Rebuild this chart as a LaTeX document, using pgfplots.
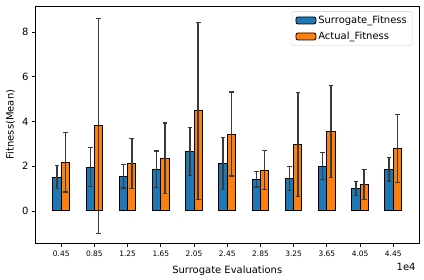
\documentclass[border=0pt]{standalone}
\usepackage{pgfplots}
\pgfplotsset{compat=1.18}
\usepackage{fontspec}
\setmainfont{DejaVu Sans}
\definecolor{mblue}{HTML}{1F77B4}
\definecolor{morange}{HTML}{FF7F0E}
\definecolor{ecol}{HTML}{3A3A3A}
\begin{document}
\begin{tikzpicture}
\useasboundingbox (0,0) rectangle (424bp,280bp);
\begin{axis}[
  at={(35.5bp,37bp)}, anchor=south west,
  scale only axis, width=383.5bp, height=237bp,
  xmin=0.14, xmax=4.76, ymin=-1.43, ymax=9.16,
  xtick={0.45,0.85,1.25,1.65,2.05,2.45,2.85,3.25,3.65,4.05,4.45},
  xticklabels={0.45,0.85,1.25,1.65,2.05,2.45,2.85,3.25,3.65,4.05,4.45},
  ytick={0,2,4,6,8},
  yticklabels={0,2,4,6,8},
  xtick pos=bottom, ytick pos=left,
  tick align=outside, major tick length=3.5bp,
  tick style={black, line width=0.8bp},
  axis line style={line width=0.8bp},
  x tick label style={font=\fontsize{7.5}{9}\selectfont, yshift=-1bp},
  y tick label style={font=\fontsize{10}{12}\selectfont},
  xlabel={Surrogate Evaluations},
  ylabel={Fitness(Mean)},
  label style={font=\fontsize{10}{12}\selectfont},
  xlabel style={at={(0.5,0)}, anchor=north, yshift=-19bp},
  ylabel style={at={(0,0.5)}, rotate=0, anchor=south, yshift=17bp},
  ybar, bar width=0.1, bar shift=0pt,
  legend style={at={(0.983,0.978)}, anchor=north east, draw=black!20, rounded corners=2bp,
    font=\fontsize{10}{12}\selectfont, row sep=3bp, inner xsep=3.5bp, inner ysep=2.5bp},
  legend cell align=left,
  area legend,
  legend image code/.code={\draw[#1, line width=0.8bp] (0bp,-3.5bp) rectangle (20bp,3.5bp);},
  error bars/error bar style={ecol, line width=1.5bp},
  error bars/error mark options={ecol, line width=1.2bp, mark size=2.3bp, rotate=90},
]
\addplot[fill=mblue, draw=black, line width=1bp,
  error bars/.cd, y dir=both, y explicit]
coordinates {
(0.40,1.51) +- (0,0.52)
(0.80,1.95) +- (0,0.87)
(1.20,1.55) +- (0,0.52)
(1.60,1.86) +- (0,0.82)
(2.00,2.67) +- (0,1.07)
(2.40,2.13) +- (0,1.17)
(2.80,1.42) +- (0,0.35)
(3.20,1.46) +- (0,0.54)
(3.60,2.00) +- (0,0.61)
(4.00,1.01) +- (0,0.32)
(4.40,1.86) +- (0,0.52)
};
\addlegendentry{Surrogate\_Fitness}
\addplot[fill=morange, draw=black, line width=1bp,
  error bars/.cd, y dir=both, y explicit]
coordinates {
(0.50,2.18) +- (0,1.33)
(0.90,3.81) +- (0,4.80)
(1.30,2.13) +- (0,1.12)
(1.70,2.36) +- (0,1.57)
(2.10,4.48) +- (0,3.96)
(2.50,3.44) +- (0,1.88)
(2.90,1.82) +- (0,0.87)
(3.30,2.98) +- (0,2.33)
(3.70,3.55) +- (0,2.06)
(4.10,1.19) +- (0,0.67)
(4.50,2.80) +- (0,1.52)
};
\addlegendentry{Actual\_Fitness}
\end{axis}
\node[anchor=east, font=\fontsize{10}{12}\selectfont] at (419bp,13bp) {1e4};
\end{tikzpicture}
\end{document}
